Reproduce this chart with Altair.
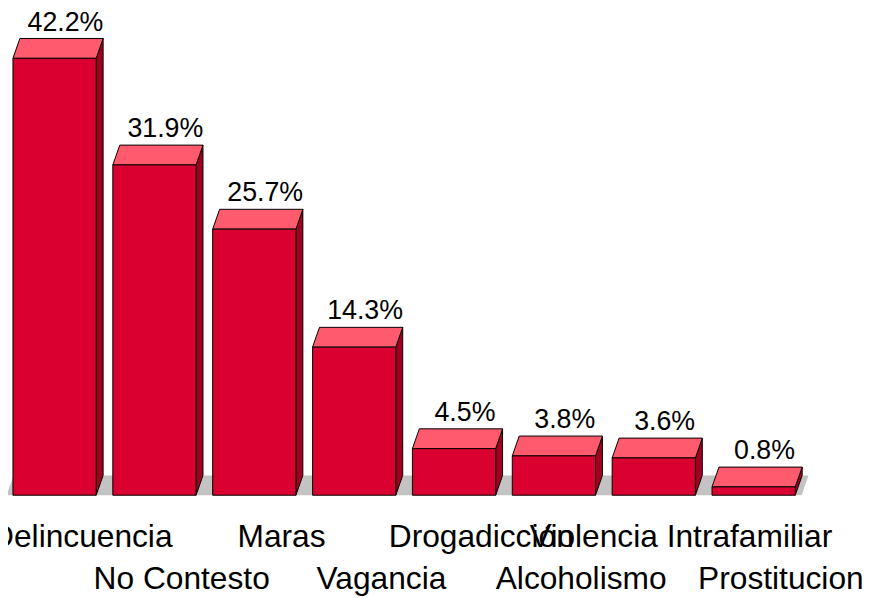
import json
import altair as alt
import pandas as pd

# ---- data ----
categories = ["Delincuencia", "No Contesto", "Maras", "Vagancia",
              "Drogadicción", "Alcoholismo", "Violencia Intrafamiliar", "Prostitucion"]
values = [42.2, 31.9, 25.7, 14.3, 4.5, 3.8, 3.6, 0.8]
value_labels = ["42.2%", "31.9%", "25.7%", "14.3%", "4.5%", "3.8%", "3.6%", "0.8%"]

# ---- layout / style constants ----
W, H = 864, 489            # plot area in px
STEP = 100.8               # px per category slot
PX_PER_PCT = 10.45         # px per percentage point
X0 = 47 / STEP             # first bar centre (slot units)
HALF = 42 / STEP           # half bar width (slot units)
DX = 7 / STEP              # 3D depth, horizontal (slot units)
DY = 20 / PX_PER_PCT       # 3D depth, vertical (percentage units)
FLOOR_EXT = 0.48

FRONT = "#DA0030"
TOP = "#FF5A6E"
SIDE = "#A0001E"
FLOOR = "#C3C3C3"
FONT = "Liberation Sans"

xs = alt.Scale(domain=[0, W / STEP], nice=False, zero=False)
ys = alt.Scale(domain=[0, H / PX_PER_PCT], nice=False, zero=False)

n = len(categories)
bars = pd.DataFrame({"name": categories, "v": values, "lab": value_labels})
bars["pos"] = [X0 + i for i in range(n)]
bars["L"] = bars["pos"] - HALF
bars["R"] = bars["pos"] + HALF
bars["base"] = 0.0
bars["ytop"] = bars["v"] + DY

# top faces (horizontal areas: front edge, back edge); side faces (vertical areas)
top_rows = []
side_rows = []
for name, v, L, R in zip(bars["name"], bars["v"], bars["L"], bars["R"]):
    top_rows.append({"name": name, "y": v, "x": L, "x2": R})
    top_rows.append({"name": name, "y": v + DY, "x": L + DX, "x2": R + DX})
    side_rows.append({"name": name, "x": R, "y": 0.0, "y2": v})
    side_rows.append({"name": name, "x": R + DX, "y": DY, "y2": v + DY})
tops = pd.DataFrame(top_rows)
sides = pd.DataFrame(side_rows)

fl = X0 - FLOOR_EXT
fr = X0 + (n - 1) + FLOOR_EXT
floor_df = pd.DataFrame([
    {"y": 0.0, "x": fl, "x2": fr},
    {"y": DY, "x": fl + DX, "x2": fr + DX},
])

names_js = json.dumps(categories, ensure_ascii=False)
idx = f"round(datum.value - {X0})"
label_expr = f"({idx} % 2 == 0) ? {names_js}[{idx}] : ['', {names_js}[{idx}]]"

xaxis = alt.Axis(
    values=[X0 + i for i in range(n)], labelExpr=label_expr, title=None,
    domain=False, ticks=False, tickSize=0, grid=False,
    labelOverlap=False, labelFlush=False, labelBound=False, labelLimit=0,
    labelFont=FONT, labelFontSize=32, labelColor="black",
    labelPadding=52, labelBaseline="alphabetic", labelLineHeight=42,
    labelOffset=27, labelAlign="center",
)

floor = alt.Chart(floor_df).mark_area(orient="horizontal", fill=FLOOR).encode(
    y=alt.Y("y:Q", scale=ys, axis=None),
    x=alt.X("x:Q", scale=xs, axis=xaxis),
    x2="x2:Q",
)

side = alt.Chart(sides).mark_area(orient="vertical", fill=SIDE, stroke="black", strokeWidth=1).encode(
    x=alt.X("x:Q", scale=xs, axis=xaxis),
    y=alt.Y("y:Q", scale=ys, axis=None),
    y2="y2:Q",
    detail="name:N",
)

top = alt.Chart(tops).mark_area(orient="horizontal", fill=TOP, stroke="black", strokeWidth=1).encode(
    y=alt.Y("y:Q", scale=ys, axis=None),
    x=alt.X("x:Q", scale=xs, axis=xaxis),
    x2="x2:Q",
    detail="name:N",
)

front = alt.Chart(bars).mark_rect(fill=FRONT, stroke="black", strokeWidth=1).encode(
    x=alt.X("L:Q", scale=xs, axis=xaxis),
    x2="R:Q",
    y=alt.Y("base:Q", scale=ys, axis=None),
    y2="v:Q",
)

text = alt.Chart(bars).mark_text(
    font=FONT, fontSize=27, color="black", align="center", baseline="alphabetic", dx=11, dy=-8
).encode(
    x=alt.X("pos:Q", scale=xs, axis=xaxis),
    y=alt.Y("ytop:Q", scale=ys, axis=None),
    text="lab:N",
)

chart = alt.layer(floor, side, top, front, text).properties(
    width=W, height=H,
    background="white",
    padding={"left": 0, "top": 0, "right": 0, "bottom": 101},
    autosize=alt.AutoSizeParams(type="none"),
).configure_view(stroke=None)

chart.save("out.html", embed_options={"renderer": "svg", "actions": False})
